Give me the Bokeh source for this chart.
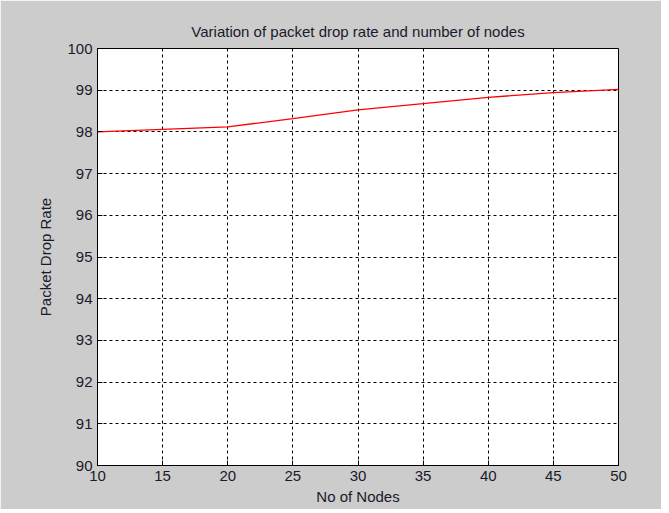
from bokeh.plotting import figure
from bokeh.models import FixedTicker, Range1d, Title
from bokeh.embed import file_html
from bokeh.resources import INLINE

nodes = [10, 15, 20, 25, 30, 35, 40, 45, 50]
drop_rate = [98.0, 98.06, 98.12, 98.32, 98.53, 98.68, 98.83, 98.94, 99.02]
x_ticks = [10, 15, 20, 25, 30, 35, 40, 45, 50]
y_ticks = [90, 91, 92, 93, 94, 95, 96, 97, 98, 99, 100]

FONT = "Liberation Sans"
TXT = "#1a1a2a"
BG = "#cccccc"

p = figure(width=661, height=509, output_backend="svg", toolbar_location=None,
           x_range=Range1d(10, 50), y_range=Range1d(90, 100),
           background_fill_color="white", border_fill_color=BG,
           min_border_left=97, min_border_right=43, min_border_top=48, min_border_bottom=44)

p.title = Title(text="Variation of packet drop rate and number of nodes", align="center",
                text_font=FONT, text_font_size="15px", text_font_style="normal",
                text_color=TXT, standoff=17)

p.outline_line_color = "black"
p.outline_line_width = 1
p.outline_line_alpha = 1

for ax in (p.xaxis, p.yaxis):
    ax.major_tick_in = 5
    ax.major_tick_out = 0
    ax.minor_tick_in = 0
    ax.minor_tick_out = 0
    ax.axis_line_color = "black"
    ax.major_tick_line_color = "black"
    ax.major_label_text_font = FONT
    ax.major_label_text_font_size = "15px"
    ax.major_label_text_color = TXT
    ax.axis_label_text_font = FONT
    ax.axis_label_text_font_size = "15px"
    ax.axis_label_text_font_style = "normal"
    ax.axis_label_text_color = TXT

p.xaxis.ticker = FixedTicker(ticks=x_ticks)
p.yaxis.ticker = FixedTicker(ticks=y_ticks)
p.xaxis.axis_label = "No of Nodes"
p.yaxis.axis_label = "Packet Drop Rate"
p.xaxis.major_label_standoff = 5
p.yaxis.major_label_standoff = 5
p.xaxis.axis_label_standoff = 4
p.yaxis.axis_label_standoff = 10

p.xgrid.ticker = FixedTicker(ticks=x_ticks)
p.ygrid.ticker = FixedTicker(ticks=y_ticks)
for g in (p.xgrid, p.ygrid):
    g.grid_line_color = "black"
    g.grid_line_dash = "3 3"
    g.grid_line_width = 1
    g.grid_line_alpha = 1

p.line(nodes, drop_rate, line_color="red", line_width=1.3)

open("out.html", "w").write(file_html(p, INLINE))
